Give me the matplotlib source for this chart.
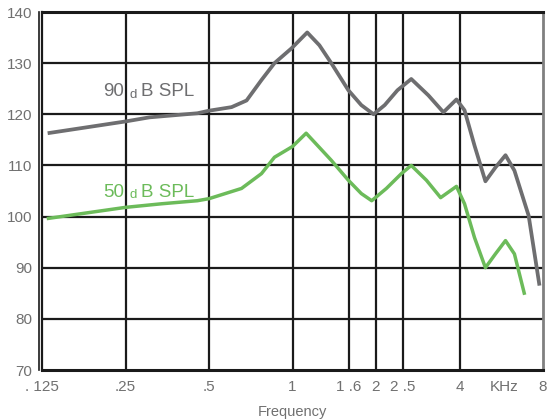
import matplotlib
matplotlib.use("Agg")
import matplotlib.pyplot as plt
import matplotlib.transforms as mtrans

plt.rcParams['font.family'] = ['Liberation Sans', 'DejaVu Sans']

# Data (frequency in kHz, level in dB SPL)
freq_90 = [0.131, 0.25, 0.305, 0.454, 0.5, 0.603, 0.683, 0.773, 0.861, 0.992, 1.13,
           1.25, 1.38, 1.59, 1.77, 1.96, 2.15, 2.39, 2.68, 3.09, 3.50, 3.90, 4.17,
           4.53, 4.96, 5.39, 5.86, 6.31, 7.10, 7.77]
spl_90 = [116.3, 118.6, 119.4, 120.2, 120.7, 121.4, 122.7, 126.7, 130.0, 132.9, 136.0,
          133.5, 130.0, 124.7, 121.8, 120.0, 121.8, 124.7, 126.9, 123.7, 120.4, 122.9,
          120.8, 113.9, 106.9, 109.6, 112.0, 109.0, 100.2, 86.5]

freq_50 = [0.13, 0.25, 0.337, 0.454, 0.5, 0.655, 0.773, 0.861, 1.0, 1.12, 1.38, 1.59,
           1.77, 1.93, 2.18, 2.47, 2.68, 3.04, 3.42, 3.90, 4.17, 4.53, 4.96, 5.39,
           5.86, 6.31, 6.87]
spl_50 = [99.6, 101.8, 102.5, 103.1, 103.5, 105.5, 108.4, 111.6, 113.7, 116.3, 111.0,
          107.1, 104.5, 103.1, 105.5, 108.4, 110.0, 107.1, 103.7, 105.9, 102.5, 95.9,
          90.0, 92.7, 95.3, 92.7, 84.7]

xtick_pos = [0.125, 0.25, 0.5, 1, 1.6, 2, 2.5, 4, 5.8, 8]
xtick_lbl = ['. 125', '.25', '.5', '1', '1 .6', '2', '2 .5', '4', 'KHz', '8']
grid_x = [0.25, 0.5, 1, 1.6, 2, 2.5, 4]
yticks = [70, 80, 90, 100, 110, 120, 130, 140]

gray = '#6e6e70'
green = '#6cbb5a'
txt = '#707070'
dark = '#1a1a1a'

fig = plt.figure(figsize=(5.47, 4.2), dpi=100)
ax = fig.add_axes([42/547, 50/420, (543-42)/547, (370-12)/420])
ax.set_xscale('log')
ax.set_xlim(0.125, 8)
ax.set_ylim(70, 140)

for gx in grid_x:
    ax.axvline(gx, color=dark, lw=1.6, zorder=1)
for gy in yticks[1:-1]:
    ax.axhline(gy, color=dark, lw=1.6, zorder=1)

ax.plot(freq_90, spl_90, color=gray, lw=2.7, solid_joinstyle='round',
        solid_capstyle='butt', zorder=3)
ax.plot(freq_50, spl_50, color=green, lw=2.5, solid_joinstyle='round',
        solid_capstyle='butt', zorder=3)


def spl_label(y, number, color):
    ax.text(0.207, y, number, color=color, fontsize=13.5, va='baseline', ha='left')
    ax.text(0.259, y - 0.3, 'd', color=color, fontsize=9.5, va='baseline', ha='left')
    ax.text(0.285, y, 'B SPL', color=color, fontsize=13.5, va='baseline', ha='left')


spl_label(123.5, '90', gray)
spl_label(103.9, '50', green)

ax.set_xticks(xtick_pos)
ax.set_xticklabels(xtick_lbl)
ax.xaxis.set_minor_locator(matplotlib.ticker.NullLocator())
ax.set_yticks(yticks)
ax.set_yticklabels([str(v) for v in yticks])
ax.tick_params(axis='both', length=0, labelsize=11, colors=txt)
ax.tick_params(axis='x', pad=7)
ax.tick_params(axis='y', pad=7)
ax.set_xlabel('Frequency', color=txt, fontsize=10.5, labelpad=8)

for side in ['top', 'bottom']:
    ax.spines[side].set_color(dark)
    ax.spines[side].set_linewidth(2.2)
ax.spines['left'].set_color(dark)
ax.spines['left'].set_linewidth(1.6)
ax.spines['right'].set_color('#808080')
ax.spines['right'].set_linewidth(2.0)

# second (outer) left border line, as in the reference
off = mtrans.offset_copy(ax.transAxes, fig=fig, x=-2.3, y=0, units='points')
ax.plot([0, 0], [0, 1], color=dark, lw=1.2, transform=off, clip_on=False, zorder=5)

fig.savefig('out.png', dpi=100)
